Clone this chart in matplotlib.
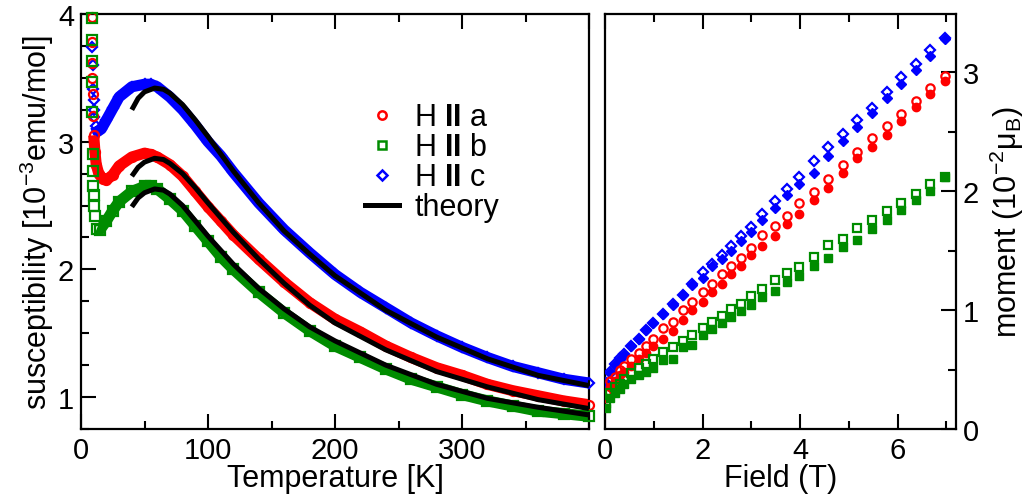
import matplotlib
matplotlib.use("Agg")
import matplotlib.pyplot as plt
from matplotlib.ticker import MultipleLocator
from matplotlib.lines import Line2D

plt.rcParams['font.family'] = ['Liberation Sans', 'DejaVu Sans']
plt.rcParams['mathtext.fontset'] = 'custom'
plt.rcParams['mathtext.rm'] = 'Liberation Sans'
plt.rcParams['mathtext.it'] = 'Liberation Sans:italic'
plt.rcParams['mathtext.bf'] = 'Liberation Sans:bold'

# ---------------- data: susceptibility vs temperature ----------------
T_a = [8.7, 8.8, 8.9, 9.0, 9.2, 9.5, 10, 11, 12, 14, 17, 20, 25, 30, 40, 50, 55, 60, 70, 80,
       90, 100, 110, 120, 140, 160, 180, 200, 220, 240, 260, 280, 300, 320, 340, 360, 380, 400]
chi_a = [3.98, 3.78, 3.62, 3.50, 3.37, 3.20, 3.05, 2.92, 2.82, 2.75, 2.71, 2.70, 2.74, 2.81, 2.88,
         2.91, 2.90, 2.88, 2.82, 2.73, 2.61, 2.49, 2.38, 2.27, 2.08, 1.90, 1.74, 1.61, 1.51, 1.40,
         1.31, 1.23, 1.17, 1.10, 1.05, 1.01, 0.97, 0.94]

T_b = [8.5, 8.6, 8.7, 8.8, 9.0, 9.3, 9.5, 9.8, 10.2, 10.6, 11.2, 12.5, 15, 20, 25, 30, 40, 50, 55,
       60, 70, 80, 90, 100, 110, 120, 140, 160, 180, 200, 220, 240, 260, 280, 300, 320, 340, 360, 380, 400]
chi_b = [3.97, 3.80, 3.63, 3.47, 3.23, 2.90, 2.77, 2.65, 2.58, 2.50, 2.42, 2.32, 2.31, 2.38, 2.46,
         2.53, 2.61, 2.65, 2.65, 2.63, 2.55, 2.46, 2.34, 2.22, 2.10, 2.00, 1.82, 1.66, 1.52, 1.40,
         1.31, 1.22, 1.14, 1.08, 1.02, 0.97, 0.93, 0.89, 0.87, 0.85]

T_c = [9.0, 9.3, 9.6, 9.9, 10.2, 10.6, 11.5, 13, 16, 20, 25, 30, 40, 50, 55, 60, 70, 80, 90, 100,
       110, 120, 140, 160, 180, 200, 220, 240, 260, 280, 300, 320, 340, 360, 380, 400]
chi_c = [3.74, 3.60, 3.41, 3.33, 3.25, 3.19, 3.12, 3.08, 3.10, 3.17, 3.26, 3.35, 3.43, 3.45, 3.45,
         3.43, 3.35, 3.25, 3.13, 3.00, 2.89, 2.76, 2.52, 2.31, 2.13, 1.96, 1.82, 1.70, 1.58, 1.48,
         1.39, 1.31, 1.24, 1.19, 1.14, 1.11]

# index where the dense (continuous) part of each data set starts
band_start_a = 6
band_start_b = 11
band_start_c = 6

T_th = [40, 45, 50, 58, 65, 70, 80, 90, 100, 120, 140, 160, 180, 200, 240, 280, 320, 360, 400]
th_a = [2.73, 2.80, 2.84, 2.87, 2.86, 2.83, 2.75, 2.64, 2.52, 2.29, 2.08, 1.89, 1.72, 1.58, 1.37,
        1.20, 1.08, 0.98, 0.91]
th_b = [2.49, 2.56, 2.60, 2.63, 2.62, 2.59, 2.50, 2.38, 2.26, 2.04, 1.85, 1.69, 1.55, 1.44, 1.25,
        1.10, 0.99, 0.92, 0.86]
th_c = [3.25, 3.34, 3.39, 3.42, 3.41, 3.38, 3.29, 3.17, 3.04, 2.77, 2.52, 2.30, 2.12, 1.95, 1.68,
        1.47, 1.30, 1.17, 1.09]

# ---------------- data: moment vs field ----------------
B = [6.97, 6.67, 6.37, 6.07, 5.78, 5.48, 5.17, 4.88, 4.58, 4.29, 3.98, 3.74, 3.48, 3.23, 2.99,
     2.79, 2.59, 2.39, 2.19, 2.00, 1.79, 1.59, 1.39, 1.19, 0.99, 0.84, 0.69, 0.54, 0.39, 0.31,
     0.20, 0.10, 0.03]
m_a_open = [2.97, 2.87, 2.76, 2.65, 2.55, 2.45, 2.33, 2.22, 2.10, 1.99, 1.90, 1.79, 1.71, 1.63,
            1.52, 1.44, 1.37, 1.30, 1.22, 1.15, 1.07, 1.00, 0.90, 0.85, 0.76, 0.70, 0.64, 0.59,
            0.53, 0.50, 0.44, 0.40, 0.30]
m_a_fill = [2.93, 2.82, 2.71, 2.59, 2.47, 2.37, 2.28, 2.15, 2.03, 1.93, 1.81, 1.72, 1.62, 1.54,
            1.46, 1.37, 1.30, 1.22, 1.15, 1.07, 1.00, 0.92, 0.82, 0.76, 0.70, 0.64, 0.59, 0.53,
            0.48, 0.45, 0.40, 0.35, 0.26]
m_b_open = [2.12, 2.06, 1.98, 1.90, 1.83, 1.76, 1.69, 1.60, 1.55, 1.45, 1.36, 1.31, 1.25, 1.18,
            1.12, 1.05, 1.01, 0.95, 0.90, 0.85, 0.79, 0.74, 0.69, 0.65, 0.59, 0.55, 0.51, 0.47,
            0.42, 0.38, 0.35, 0.30, 0.22]
m_b_fill = [2.12, 2.00, 1.93, 1.84, 1.76, 1.68, 1.59, 1.53, 1.44, 1.37, 1.29, 1.24, 1.16, 1.11,
            1.04, 0.99, 0.94, 0.89, 0.84, 0.79, 0.71, 0.69, 0.59, 0.58, 0.51, 0.48, 0.45, 0.42,
            0.38, 0.34, 0.30, 0.26, 0.18]
m_c_open = [3.29, 3.19, 3.07, 2.96, 2.83, 2.70, 2.60, 2.48, 2.37, 2.25, 2.12, 2.02, 1.92, 1.81,
            1.70, 1.62, 1.54, 1.46, 1.39, 1.32, 1.22, 1.13, 1.05, 0.97, 0.89, 0.83, 0.76, 0.70,
            0.63, 0.60, 0.55, 0.48, 0.39]
m_c_fill = [3.28, 3.14, 3.02, 2.90, 2.78, 2.66, 2.54, 2.42, 2.30, 2.15, 2.06, 1.97, 1.86, 1.76,
            1.66, 1.58, 1.50, 1.43, 1.37, 1.27, 1.21, 1.13, 1.04, 0.97, 0.89, 0.83, 0.76, 0.70,
            0.62, 0.59, 0.54, 0.47, 0.37]

labels = ["H $\\mathbf{II}$ a", "H $\\mathbf{II}$ b", "H $\\mathbf{II}$ c", "theory"]

RED = '#ff0000'
GREEN = '#008c00'
BLUE = '#0000ff'
FS_TICK = 21
FS_LAB = 22

fig = plt.figure(figsize=(10.34, 5.02), dpi=100)
ax1 = fig.add_axes([81/1034, 72/502, 508/1034, 415/502])
ax2 = fig.add_axes([605/1034, 72/502, 351/1034, 415/502])

# ---------- left panel ----------
series = [(T_c, chi_c, band_start_c, BLUE, 'D', 5.5),
          (T_a, chi_a, band_start_a, RED, 'o', 6.5),
          (T_b, chi_b, band_start_b, GREEN, 's', 6.5)]
for T, chi, k, col, mk, ms in series:
    ax1.plot(T[k:], chi[k:], '-', color=col, lw=8, solid_capstyle='butt', zorder=2)
    ax1.plot(T, chi, linestyle='none', marker=mk, ms=ms, mfc='none', mec=col, mew=1.6,
             zorder=3, clip_on=False)

for th in (th_c, th_a, th_b):
    ax1.plot(T_th, th, '-', color='black', lw=3.6, solid_capstyle='butt', zorder=4)

ax1.set_xlim(0, 400)
ax1.set_ylim(0.75, 4.0)
ax1.set_xticks([0, 100, 200, 300, 400])
ax1.set_xticklabels(['0', '100', '200', '300', ''])
ax1.xaxis.set_minor_locator(MultipleLocator(50))
ax1.yaxis.set_major_locator(MultipleLocator(1))
ax1.yaxis.set_minor_locator(MultipleLocator(0.25))
ax1.tick_params(which='both', direction='in', top=True, right=False, labelsize=FS_TICK, width=1.5)
ax1.tick_params(which='major', length=10.5, pad=5)
ax1.tick_params(which='minor', length=5.5)
ax1.set_xlabel('Temperature [K]', fontsize=FS_LAB, labelpad=-1)
ax1.set_ylabel('susceptibility [10$^{-3}$emu/mol]', fontsize=FS_LAB, labelpad=1)

handles = [Line2D([], [], linestyle='none', marker='o', ms=6.0, mfc='none', mec=RED, mew=1.8),
           Line2D([], [], linestyle='none', marker='s', ms=5.5, mfc='none', mec=GREEN, mew=1.8),
           Line2D([], [], linestyle='none', marker='D', ms=5.0, mfc='none', mec=BLUE, mew=1.8),
           Line2D([], [], color='black', lw=3.6)]
ax1.legend(handles, labels, loc='upper left', bbox_to_anchor=(0.56, 0.787), frameon=False,
           fontsize=FS_LAB, handlelength=1.1, handletextpad=0.5, labelspacing=0.0,
           borderaxespad=0, borderpad=0)

# ---------- right panel ----------
for mo, mf, col, mk, ms in [(m_c_open, m_c_fill, BLUE, 'D', 5.0),
                            (m_a_open, m_a_fill, RED, 'o', 6.0),
                            (m_b_open, m_b_fill, GREEN, 's', 5.5)]:
    ax2.plot(B, mf, linestyle='none', marker=mk, ms=ms, mfc=col, mec=col, mew=1.0, zorder=3)
    ax2.plot(B, mo, linestyle='none', marker=mk, ms=ms, mfc='none', mec=col, mew=1.6, zorder=3)

ax2.set_xlim(0, 7.2)
ax2.set_ylim(0, 3.49)
ax2.xaxis.set_major_locator(MultipleLocator(2))
ax2.xaxis.set_minor_locator(MultipleLocator(1))
ax2.yaxis.set_major_locator(MultipleLocator(1))
ax2.yaxis.set_minor_locator(MultipleLocator(0.5))
ax2.yaxis.tick_right()
ax2.yaxis.set_label_position('right')
ax2.tick_params(which='both', direction='in', top=True, left=False, right=True,
                labelleft=False, labelright=True, labelsize=FS_TICK, width=1.5)
ax2.tick_params(which='major', length=10.5, pad=5)
ax2.tick_params(which='minor', length=5.5)
ax2.set_xlabel('Field (T)', fontsize=FS_LAB, labelpad=-1)
ax2.set_ylabel('moment (10$^{-2}$μ$_\\mathrm{B}$)', fontsize=FS_LAB, labelpad=6)

for ax in (ax1, ax2):
    for s in ax.spines.values():
        s.set_linewidth(1.6)

fig.savefig('out.png', dpi=100)
